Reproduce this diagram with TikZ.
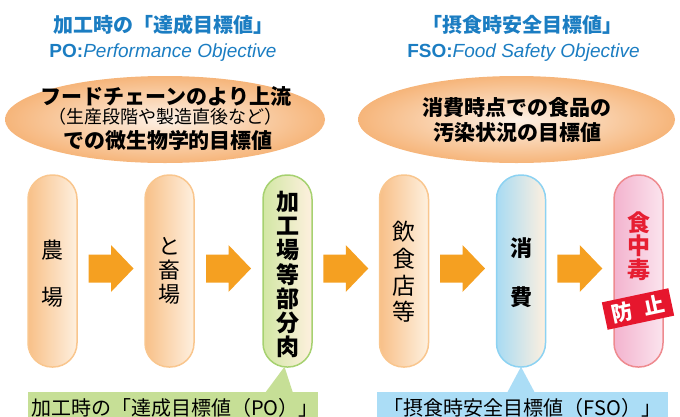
\documentclass[tikz,border=0pt]{standalone}
\usepackage{fontspec}
\setmainfont{Noto Sans CJK JP}
\newfontfamily\arialf{Liberation Sans}
\usetikzlibrary{calc}
\definecolor{titleblue}{HTML}{1B7DC2}
\definecolor{arrowc}{HTML}{F5A021}
\definecolor{orB}{HTML}{F9C68E}
\definecolor{orL}{HTML}{F8C088}
\definecolor{orR}{HTML}{FEF0DF}
\definecolor{grB}{HTML}{A6D170}
\definecolor{grL}{HTML}{D2E7A4}
\definecolor{blB}{HTML}{8CD2F2}
\definecolor{blL}{HTML}{A8DBF3}
\definecolor{pkB}{HTML}{EE8A8F}
\definecolor{pkL}{HTML}{F3B3CE}
\definecolor{pkR}{HTML}{FBE4EE}
\definecolor{badgec}{HTML}{E6162D}
\definecolor{foodred}{HTML}{E61E32}
\definecolor{greenbox}{HTML}{C6DF96}
\definecolor{bluebox}{HTML}{ABDDF6}
\definecolor{ellout}{HTML}{F6B57A}
\definecolor{ellin}{HTML}{FDF1E6}
\begin{document}
\begin{tikzpicture}[x=1pt,y=-1pt,
  pillbox/.style={minimum width=49pt, minimum height=192pt, rounded corners=24pt, line width=1.5pt, inner sep=0pt},
  orpill/.style={pillbox, draw=orB, left color=orL, right color=orR},
  pilltext/.style={align=center, inner sep=0pt},
  titletext/.style={text=titleblue, font=\fontsize{20}{24}\selectfont\bfseries},
  subtext/.style={text=titleblue, font=\arialf\fontsize{19}{22}\selectfont},
  elltext/.style={align=center, inner sep=0pt},
  barrow/.pic={\fill[arrowc] (-22.5,-14) -- (0,-14) -- (0,-23.5) -- (22.5,0) -- (0,23.5) -- (0,14) -- (-22.5,14) -- cycle;}
]
\useasboundingbox (0,0) rectangle (680,416);
\clip (0,0) rectangle (680,416);

% titles
\node[titletext] (tl) at (163.5,25) {加工時の「達成目標値」};
\node[subtext] (sl) at (163,53) {\textbf{PO:}\textit{Performance Objective}};
\node[titletext] (tr) at (522,25) {「摂食時安全目標値」};
\node[subtext] (sr) at (523.5,53) {\textbf{FSO:}\textit{Food Safety Objective}};

% ellipses
\shade[inner color=ellin, outer color=ellout] (165,119.5) ellipse [x radius=160, y radius=43.5];
\shade[inner color=ellin, outer color=ellout] (516.5,119.5) ellipse [x radius=158.5, y radius=43.5];
\node[elltext, font=\fontsize{21}{24}\selectfont\bfseries] (el1) at (166,96) {フードチェーンのより上流};
\node[elltext, font=\fontsize{18}{22}\selectfont] (el2) at (165,117) {（生産段階や製造直後など）};
\node[elltext, font=\fontsize{21}{24}\selectfont\bfseries] (el3) at (168,140) {での微生物学的目標値};
\node[elltext, font=\fontsize{21}{25}\selectfont\bfseries] (er) at (517,119.5) {消費時点での食品の\\汚染状況の目標値};

% pills
\node[orpill] (p1) at (52.5,271) {};
\node[orpill] (p2) at (169.5,271) {};
\node[pillbox, draw=grB, left color=grL, right color=orR] (p3) at (287.5,271) {};
\node[orpill] (p4) at (404,271) {};
\node[pillbox, draw=blB, left color=blL, right color=orR] (p5) at (521,271) {};
\node[pillbox, draw=pkB, left color=pkL, right color=pkR] (p6) at (638.5,271) {};

% pill texts
\node[pilltext, font=\fontsize{22}{47}\selectfont, yshift=-2.5pt] (t1) at (p1) {農\\場};
\node[pilltext, font=\fontsize{22}{24}\selectfont] (t2) at (p2) {と\\畜\\場};
\node[pilltext, font=\fontsize{23}{24.2}\selectfont\bfseries, yshift=-3.5pt] (t3) at (p3) {加\\工\\場\\等\\部\\分\\肉};
\node[pilltext, font=\fontsize{23}{26.7}\selectfont, yshift=-1pt] (t4) at (p4) {飲\\食\\店\\等};
\node[pilltext, font=\fontsize{22}{49}\selectfont\bfseries, yshift=-1.5pt] (t5) at (p5) {消\\費};
\node[pilltext, font=\fontsize{23}{23.5}\selectfont\bfseries, text=foodred] (t6) at (638.5,246) {食\\中\\毒};

% arrows
\pic at ($(p1)!0.5!(p2)+(0,-2.5)$) {barrow};
\pic at ($(p2)!0.5!(p3)+(0,-2.5)$) {barrow};
\pic at ($(p3)!0.5!(p4)+(0,-2.5)$) {barrow};
\pic at ($(p4)!0.5!(p5)+(0,-2.5)$) {barrow};
\pic at ($(p5)!0.5!(p6)+(0,-2.5)$) {barrow};

% badge
\node[rotate=12, fill=badgec, minimum width=68pt, minimum height=28pt, inner sep=0pt, text=white, font=\fontsize{21}{24}\selectfont\bfseries] (badge) at (638,309) {防\hspace{11pt}止};

% callouts
\node[fill=greenbox, anchor=north west, minimum width=290pt, minimum height=40pt, inner sep=0pt] (gb) at (28,392) {};
\fill[greenbox] ($(p3.south)+(-3,-1)$) -- (265,393) -- (293,393) -- cycle;
\node[font=\fontsize{20}{24}\selectfont, inner sep=0pt] (gt) at (175,408) {加工時の「達成目標値（PO）」};
\node[fill=bluebox, anchor=north west, minimum width=291pt, minimum height=40pt, inner sep=0pt] (bb) at (377,392) {};
\fill[bluebox] ($(p5.south)+(0,-1)$) -- (507,393) -- (535,393) -- cycle;
\node[font=\fontsize{20}{24}\selectfont, inner sep=0pt] (bt) at (522.5,408) {「摂食時安全目標値（FSO）」};
\end{tikzpicture}
\end{document}
